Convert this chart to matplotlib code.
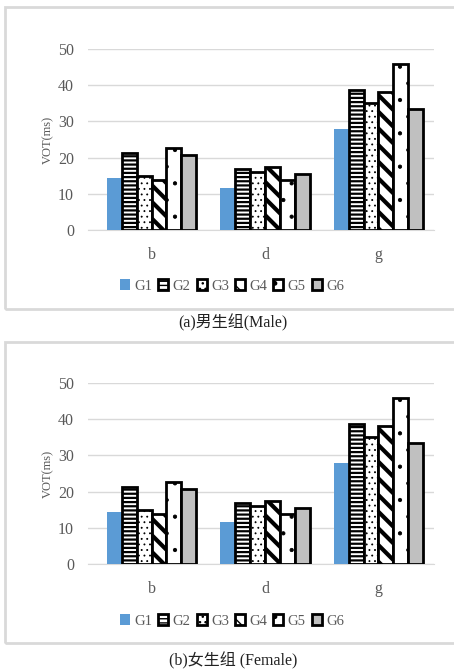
import matplotlib
matplotlib.use("Agg")
import matplotlib.pyplot as plt
from matplotlib.patches import Rectangle
import numpy as np

plt.rcParams['font.family'] = ['Liberation Serif', 'Noto Sans CJK SC']

categories = ['b', 'd', 'g']
groups = ['G1', 'G2', 'G3', 'G4', 'G5', 'G6']

# VOT values (ms) per group, for b / d / g
male = {
    'G1': [14.3, 11.5, 27.8],
    'G2': [21.3, 16.8, 38.7],
    'G3': [14.8, 16.1, 35.2],
    'G4': [13.7, 17.5, 38.1],
    'G5': [22.6, 13.8, 45.8],
    'G6': [20.6, 15.6, 33.4],
}
female = {
    'G1': [14.3, 11.5, 27.8],
    'G2': [21.3, 16.8, 38.7],
    'G3': [14.8, 16.1, 35.2],
    'G4': [13.7, 17.5, 38.1],
    'G5': [22.6, 13.8, 45.8],
    'G6': [20.6, 15.6, 33.4],
}

styles = {
    'G1': dict(color='#5B9BD5', edgecolor='#5B9BD5', hatch=None, lw=0, hlw=1),
    'G2': dict(color='white', edgecolor='black', hatch='----', lw=2, hlw=1.6),
    'G3': dict(color='white', edgecolor='black', hatch='...', lw=2, hlw=0.6),
    'G4': dict(color='white', edgecolor='black', hatch='\\\\', lw=2, hlw=3),
    'G5': dict(color='white', edgecolor='black', hatch='.', lw=2, hlw=0.6),
    'G6': dict(color='#C0C0C0', edgecolor='black', hatch=None, lw=2, hlw=1),
}

W, H = 454, 672
fig = plt.figure(figsize=(W / 100, H / 100), dpi=100)

grey = '#595959'


def panel(data, y0, y50, box_top, box_bot, legend_y, caption, cap_y):
    fig.patches.append(Rectangle((5 / W, 1 - box_bot / H), (460 - 5) / W,
                                 (box_bot - box_top) / H, transform=fig.transFigure,
                                 fill=False, edgecolor='#D9D9D9', lw=2))
    ax = fig.add_axes([88 / W, 1 - y0 / H, (434 - 88) / W, (y0 - y50) / H])
    x = np.arange(len(categories))
    w = 0.131
    handles = []
    for i, g in enumerate(groups):
        s = styles[g]
        plt.rcParams['hatch.linewidth'] = s['hlw']
        b = ax.bar(x + (i - 2.5) * w, data[g], w, color=s['color'],
                   edgecolor=s['edgecolor'], hatch=s['hatch'], linewidth=s['lw'],
                   label=g, zorder=3)
        handles.append(b)
    ax.set_ylim(0, 50)
    ax.set_xlim(-0.56, 2.49)
    ax.set_yticks(range(0, 51, 10))
    ax.grid(axis='y', color='#D9D9D9', lw=1, zorder=0)
    for sp in ['top', 'right', 'left']:
        ax.spines[sp].set_visible(False)
    ax.spines['bottom'].set_color('#D9D9D9')
    ax.tick_params(length=0, labelsize=11.5, colors=grey, pad=10)
    ax.tick_params(axis='x', pad=12)
    ax.set_xticks(x)
    ax.set_xticklabels(categories)
    ax.set_ylabel('VOT(ms)', fontsize=9, color=grey, labelpad=3)
    fig.legend(handles=handles, labels=groups, loc='center',
               bbox_to_anchor=(232 / W, 1 - legend_y / H), ncol=6, frameon=False,
               fontsize=10.5, labelcolor=grey, handlelength=0.7, handleheight=0.7,
               handletextpad=0.3, columnspacing=0.4)
    fig.text(233 / W, 1 - cap_y / H, caption, ha='center', va='center',
             fontsize=11.5, color='#222222')


panel(male, 230, 49, 7, 309, 286, '(a)男生组(Male)', 323)
panel(female, 564, 383, 342, 643, 621, '(b)女生组 (Female)', 661)

fig.savefig('out.png', dpi=100)
